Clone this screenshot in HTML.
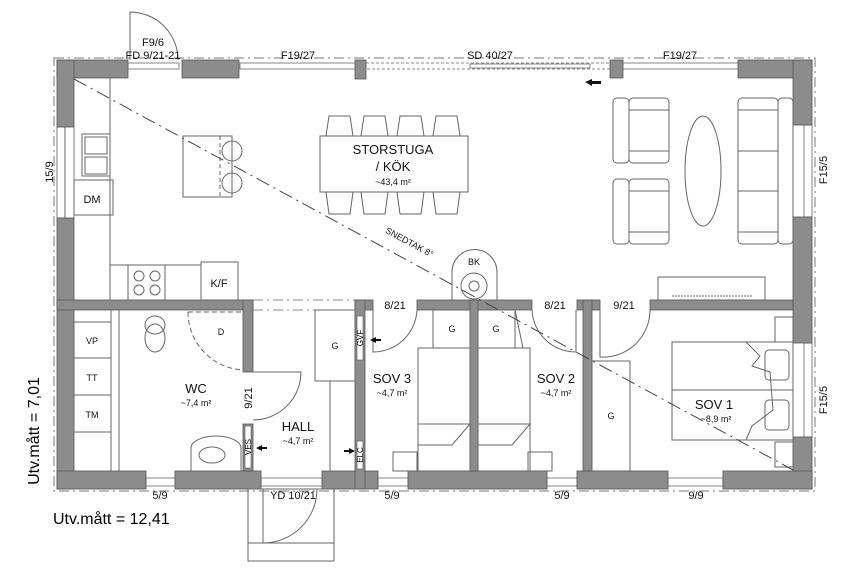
<!DOCTYPE html>
<html><head><meta charset="utf-8"><style>
html,body{margin:0;padding:0;background:#fff;}
svg{display:block;font-family:"Liberation Sans",sans-serif;}
.w{fill:#8c8c8c;stroke:#555;stroke-width:0.8}
.f{fill:none;stroke:#666;stroke-width:1}
.t{font-size:11px;fill:#111;text-anchor:middle}
.s{font-size:9px;fill:#111;text-anchor:middle}
.r{font-size:13px;fill:#111;text-anchor:middle}
</style></head><body>
<svg width="864" height="576" viewBox="0 0 864 576" xmlns="http://www.w3.org/2000/svg">
<rect width="864" height="576" fill="#fff"/>
<!-- dashed outline -->
<rect x="54" y="58" width="761" height="433" fill="none" stroke="#777" stroke-width="1" stroke-dasharray="10,4,2,4"/>
<!-- top wall -->
<rect class="w" x="57" y="60" width="71" height="18"/>
<rect class="w" x="182" y="60" width="57" height="18"/>
<rect class="w" x="355" y="60" width="11" height="19"/>
<rect class="w" x="610" y="60" width="13" height="18"/>
<rect class="w" x="738" y="60" width="74" height="18"/>
<!-- windows top -->
<g fill="none" stroke="#666" stroke-width="0.8">
<rect x="128" y="63" width="51" height="6"/>
<rect x="240" y="63" width="115" height="6"/>
<rect x="366" y="63" width="244" height="6" stroke-dasharray="3,2"/>
<rect x="470" y="64" width="120" height="4"/>
<rect x="623" y="63" width="115" height="6"/>
<rect x="57" y="127" width="8" height="91"/>
<rect x="804" y="125" width="8" height="92"/>
<rect x="804" y="343" width="8" height="94"/>
<rect x="146" y="478" width="29" height="8"/>
<rect x="261" y="478" width="61" height="8"/>
<rect x="378" y="478" width="30" height="8"/>
<rect x="547" y="478" width="30" height="8"/>
<rect x="668" y="478" width="55" height="8"/>
</g>
<!-- left wall -->
<rect class="w" x="57" y="60" width="17" height="67"/>
<rect class="w" x="57" y="218" width="17" height="271"/>
<rect class="w" x="65" y="127" width="9" height="91" fill="#fff" style="fill:#fff"/>
<!-- right wall -->
<rect class="w" x="793" y="60" width="19" height="65"/>
<rect class="w" x="793" y="217" width="19" height="126"/>
<rect class="w" x="793" y="437" width="19" height="52"/>
<!-- bottom wall -->
<rect class="w" x="57" y="471" width="89" height="18"/>
<rect class="w" x="175" y="471" width="86" height="18"/>
<rect class="w" x="322" y="471" width="56" height="18"/>
<rect class="w" x="408" y="471" width="139" height="18"/>
<rect class="w" x="577" y="471" width="91" height="18"/>
<rect class="w" x="723" y="471" width="89" height="18"/>
<!-- interior walls -->
<rect class="w" x="57" y="300" width="196" height="10"/>
<line x1="253" y1="300" x2="355" y2="300" stroke="#888" stroke-dasharray="10,4,2,4"/>
<line x1="253" y1="310" x2="355" y2="310" stroke="#888" stroke-dasharray="10,4,2,4"/>
<rect class="w" x="355" y="300" width="18" height="10"/>
<rect class="w" x="355" y="300" width="10" height="189"/>
<rect class="w" x="417" y="300" width="115" height="10"/>
<rect class="w" x="470" y="300" width="8" height="171"/>
<rect class="w" x="577" y="300" width="23" height="10"/>
<rect class="w" x="583" y="300" width="9" height="171"/>
<rect class="w" x="650" y="300" width="143" height="10"/>
<rect class="w" x="243" y="300" width="10" height="72"/>
<rect class="w" x="243" y="424" width="10" height="47"/>
<rect x="245" y="426" width="6" height="42" fill="#fff" stroke="#555" stroke-width="0.6"/>
<rect x="357" y="316" width="6" height="44" fill="#fff" stroke="#555" stroke-width="0.6"/>
<rect x="357" y="441" width="6" height="28" fill="#fff" stroke="#555" stroke-width="0.6"/>
<!-- doors -->
<g class="f">
<path d="M130 60 V12 A48 48 0 0 1 178 60"/>
<path d="M253 372 H301 A48 48 0 0 1 253 420"/>
<path d="M373 310 V352 A44 44 0 0 0 417 310"/>
<path d="M576 310 V352 A44 44 0 0 1 532 310"/>
<path d="M600 310 V357 A47 47 0 0 0 650 310"/>
<path d="M263 489 V543 A54 54 0 0 0 317 489"/>
<rect x="248" y="489" width="86" height="72"/>
<line x1="248" y1="543" x2="334" y2="543"/>
<path d="M188 312 H243 V370 M188 312 A58 58 0 0 0 243 370" stroke-dasharray="5,3"/>
<!-- kitchen -->
<path d="M110 78 V265 H201 M110 265 V300"/>
<rect x="128" y="265" width="37" height="35"/>
<circle cx="139" cy="276" r="5"/><circle cx="155" cy="276" r="5"/><circle cx="139" cy="290" r="5"/><circle cx="155" cy="290" r="5"/>
<rect x="201" y="262" width="37" height="38"/>
<rect x="82" y="134" width="28" height="42"/>
<rect x="85" y="137" width="22" height="17"/><rect x="85" y="157" width="22" height="17"/>
<rect x="74" y="180" width="39" height="35"/>
<rect x="183" y="136" width="49" height="61"/>
<line x1="220" y1="136" x2="220" y2="197" stroke-dasharray="4,3"/>
<circle cx="232" cy="151" r="10"/><circle cx="232" cy="183" r="10"/>
<!-- dining -->
<rect x="320" y="136" width="148" height="56"/>
<path d="M326 136 L329 116 H350 L353 136 M361 136 L364 116 H385 L388 136 M397 136 L400 116 H421 L424 136 M433 136 L436 116 H457 L460 136"/>
<path d="M326 192 L329 214 H350 L353 192 M361 192 L364 214 H385 L388 192 M397 192 L400 214 H421 L424 192 M433 192 L436 214 H457 L460 192"/>
<!-- living -->
<rect x="613" y="98" width="16" height="65" rx="4"/><rect x="629" y="98" width="40" height="65" rx="4"/>
<line x1="629" y1="110" x2="669" y2="110"/><line x1="629" y1="151" x2="669" y2="151"/>
<rect x="613" y="179" width="16" height="65" rx="4"/><rect x="629" y="179" width="40" height="65" rx="4"/>
<line x1="629" y1="191" x2="669" y2="191"/><line x1="629" y1="232" x2="669" y2="232"/>
<ellipse cx="703" cy="171" rx="18" ry="55"/>
<rect x="738" y="98" width="40" height="146" rx="4"/><rect x="778" y="98" width="15" height="146" rx="4"/>
<line x1="738" y1="110" x2="778" y2="110"/><line x1="738" y1="151" x2="778" y2="151"/><line x1="738" y1="191" x2="778" y2="191"/><line x1="738" y1="232" x2="778" y2="232"/>
<path d="M452 300 V272 A22 22 0 0 1 497 272 V300"/>
<circle cx="474" cy="286" r="13"/><circle cx="474" cy="286" r="5"/>
<rect x="658" y="277" width="107" height="23"/>
<line x1="672" y1="296" x2="752" y2="296" stroke-dasharray="2,1"/>
<!-- WC -->
<line x1="111" y1="310" x2="111" y2="471"/><line x1="119" y1="310" x2="119" y2="471"/>
<rect x="74" y="322" width="37" height="36"/><rect x="74" y="358" width="37" height="37"/><rect x="74" y="395" width="37" height="37"/>
<ellipse cx="155" cy="325" rx="10" ry="9"/><ellipse cx="155" cy="338" rx="10" ry="14"/>
<path d="M191 471 V448 A25 12 0 0 1 241 448 V471"/><ellipse cx="212" cy="455" rx="13" ry="8"/>
<!-- hall closet -->
<rect x="315" y="310" width="40" height="71"/><line x1="330" y1="381" x2="330" y2="471"/>
<!-- SOV3/2 -->
<rect x="433" y="310" width="37" height="38"/><rect x="478" y="310" width="37" height="38"/>
<rect x="418" y="348" width="52" height="123"/><rect x="478" y="348" width="52" height="123"/>
<path d="M418 424 H470 L452 445 H418 M478 424 H530 L512 445 H478"/>
<rect x="393" y="452" width="24" height="19"/><rect x="528" y="452" width="24" height="19"/>
<line x1="515" y1="310" x2="523" y2="348"/>
<!-- SOV1 -->
<rect x="592" y="361" width="38" height="110"/>
<rect x="672" y="342" width="121" height="98"/>
<line x1="672" y1="390" x2="793" y2="390"/>
<path d="M746 342 L760 356 L752 366 L770 372 L773 410 L752 426 L746 440"/>
<rect x="765" y="350" width="24" height="30" rx="4"/><rect x="765" y="400" width="24" height="30" rx="4"/>
<rect x="775" y="317" width="18" height="25"/><rect x="775" y="442" width="18" height="25"/>
</g>
<!-- snedtak -->
<line x1="74" y1="79" x2="793" y2="470" stroke="#444" stroke-width="1" stroke-dasharray="14,5,2,5"/>
<text class="s" transform="translate(408,245) rotate(28.5)">SNEDTAK 8°</text>
<!-- arrows -->
<path d="M585 82 L592 79 V81 H601 V84 H592 V86 Z" fill="#111"/>
<path d="M370 340 L376 337 V339 H381 V341 H376 V343 Z" fill="#111"/>
<path d="M256 448 L262 445 V447 H267 V449 H262 V451 Z" fill="#111"/>
<path d="M355 451 L349 448 V450 H344 V452 H349 V454 Z" fill="#111"/>
<!-- labels -->
<text class="t" x="153" y="46">F9/6</text>
<text class="t" x="153" y="59">FD 9/21-21</text>
<text class="t" x="298" y="59">F19/27</text>
<text class="t" x="490" y="59">SD 40/27</text>
<text class="t" x="680" y="59">F19/27</text>
<text class="t" transform="translate(53,172) rotate(-90)">15/9</text>
<text class="t" transform="translate(827,170) rotate(-90)">F15/5</text>
<text class="t" transform="translate(827,400) rotate(-90)">F15/5</text>
<text class="t" x="160" y="499">5/9</text>
<text class="t" x="293" y="499">YD 10/21</text>
<text class="t" x="392" y="499">5/9</text>
<text class="t" x="562" y="499">5/9</text>
<text class="t" x="696" y="499">9/9</text>
<text class="t" x="395" y="309">8/21</text>
<text class="t" x="555" y="309">8/21</text>
<text class="t" x="624" y="309">9/21</text>
<text class="r" x="393" y="154">STORSTUGA</text>
<text class="r" x="393" y="171">/ KÖK</text>
<text class="s" x="393" y="185">~43,4 m²</text>
<text class="t" x="92" y="203">DM</text>
<text class="t" x="219" y="287">K/F</text>
<text class="s" x="474" y="265">BK</text>
<text class="s" x="221" y="335">D</text>
<text class="s" x="92" y="344">VP</text>
<text class="s" x="92" y="381">TT</text>
<text class="s" x="92" y="418">TM</text>
<text class="r" x="196" y="393">WC</text>
<text class="s" x="196" y="406">~7,4 m²</text>
<text class="t" transform="translate(252,398) rotate(-90)">9/21</text>
<text class="r" x="298" y="431">HALL</text>
<text class="s" x="298" y="444">~4,7 m²</text>
<text class="s" x="335" y="349">G</text>
<text style="font-size:8px" text-anchor="middle" transform="translate(363,338) rotate(-90)">GVF</text>
<text style="font-size:8px" text-anchor="middle" transform="translate(363,455) rotate(-90)">ELC</text>
<text style="font-size:8px" text-anchor="middle" transform="translate(251,447) rotate(-90)">VES</text>
<text class="s" x="452" y="332">G</text>
<text class="s" x="496" y="332">G</text>
<text class="r" x="392" y="383">SOV 3</text>
<text class="s" x="392" y="396">~4,7 m²</text>
<text class="r" x="556" y="383">SOV 2</text>
<text class="s" x="556" y="396">~4,7 m²</text>
<text class="s" x="611" y="419">G</text>
<text class="r" x="714" y="409">SOV 1</text>
<text class="s" x="716" y="422">~8,9 m²</text>
<text style="font-size:16px" text-anchor="middle" transform="translate(39,431) rotate(-90)">Utv.mått = 7,01</text>
<text style="font-size:16px" x="53" y="524">Utv.mått = 12,41</text>
</svg>
</body></html>
